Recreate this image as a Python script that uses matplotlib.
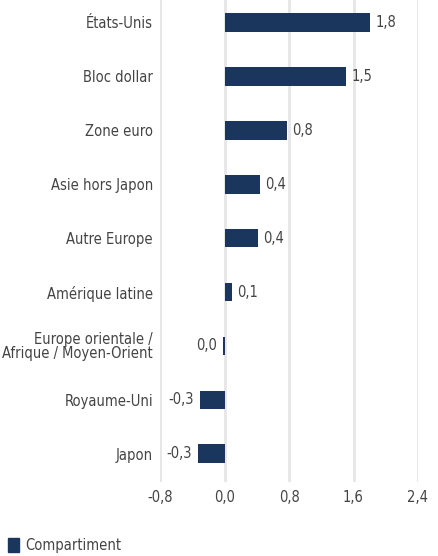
import numpy as np
import matplotlib.pyplot as plt
from matplotlib.patches import Patch

regions = ['États-Unis', 'Bloc dollar', 'Zone euro', 'Asie hors Japon',
           'Autre Europe', 'Amérique latine',
           'Europe orientale /\nAfrique / Moyen-Orient', 'Royaume-Uni', 'Japon']
valeurs = [1.80, 1.51, 0.77, 0.44, 0.41, 0.09, -0.02, -0.31, -0.33]
ticks_x = [-0.8, 0.0, 0.8, 1.6, 2.4]

bleu = '#1b365d'
gris_texte = '#444444'
gris_grille = '#e6e6e6'

plt.rcParams['font.family'] = ['DejaVu Sans']
plt.rcParams['font.stretch'] = 'condensed'

fig = plt.figure(figsize=(4.38, 5.56), dpi=100)
ax = fig.add_axes([160 / 438, 1 - 482 / 556, 258 / 438, 482 / 556])

y = np.arange(len(regions))
ax.barh(y, valeurs, height=0.35, color=bleu, zorder=3)

for yi, v in zip(y, valeurs):
    txt = f'{abs(v) if round(v, 1) == 0 else v:.1f}'.replace('.', ',')
    if v >= 0:
        ax.annotate(txt, (v, yi), xytext=(4, 0), textcoords='offset points',
                    ha='left', va='center', fontsize=10.5, color=gris_texte)
    else:
        ax.annotate(txt, (v, yi), xytext=(-4, 0), textcoords='offset points',
                    ha='right', va='center', fontsize=10.5, color=gris_texte)

ax.set_xlim(-0.8, 2.4)
ax.set_ylim(8.52, -0.41)
ax.set_xticks(ticks_x)
ax.set_xticklabels([f'{t:.1f}'.replace('.', ',') for t in ticks_x])
ax.set_yticks(y)
ax.set_yticklabels(regions, linespacing=0.85)
ax.tick_params(axis='both', length=0, labelsize=10.5, labelcolor=gris_texte)
ax.tick_params(axis='y', pad=5)
ax.tick_params(axis='x', pad=6)
ax.grid(axis='x', color=gris_grille, linewidth=2, zorder=0)
for s in ax.spines.values():
    s.set_visible(False)

fig.legend(handles=[Patch(color=bleu, label='Compartiment')],
           loc='lower left', bbox_to_anchor=(-0.012, -0.018), frameon=False,
           handlelength=0.75, handleheight=1.1, handletextpad=0.45,
           fontsize=10.5, labelcolor=gris_texte)

fig.savefig('out.png', dpi=100)
